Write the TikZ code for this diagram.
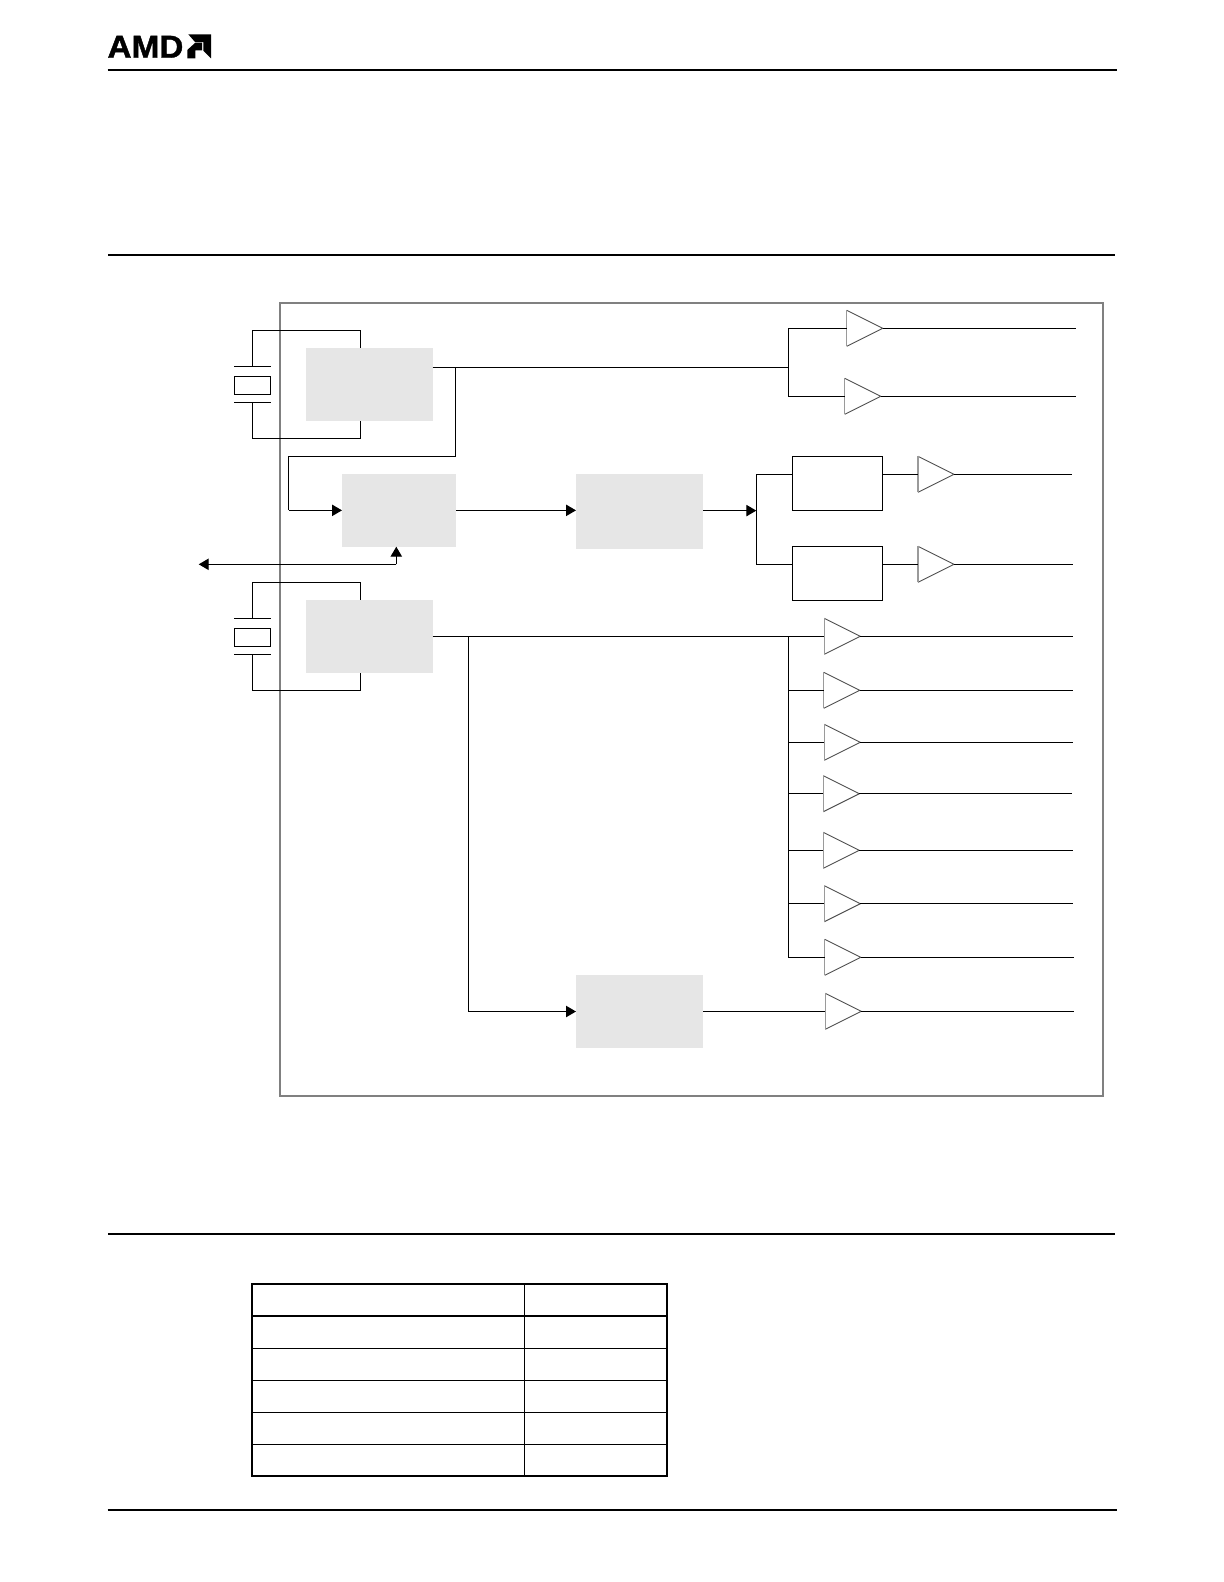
\documentclass[tikz,border=0pt]{standalone}
\usepackage{graphicx}
\usepackage{fontspec}
\setmainfont{Liberation Sans}
\newfontfamily\logofont[FakeBold=1.2]{Liberation Sans Bold}
\usetikzlibrary{arrows.meta}
\definecolor{frameg}{HTML}{808080}
\definecolor{boxg}{HTML}{E6E6E6}
\definecolor{bufdark}{HTML}{505050}
\definecolor{bufpale}{HTML}{9A9A9A}
\tikzset{
  wire/.style={line width=1pt,black,line cap=butt},
  arrowwire/.style={wire,-{Triangle[length=7.5pt,width=8.5pt]}},
  rulethick/.style={line width=1.5pt,black},
  outerframe/.style={line width=1.6pt,frameg},
  graybox/.style={fill=boxg,draw=none,inner sep=0pt,outer sep=0pt},
  linebox/.style={draw=black,line width=1pt,fill=white,inner sep=0pt,outer sep=0pt},
  bufbox/.style={inner sep=0pt,outer sep=0pt,minimum width=27pt,minimum height=27pt},
  bufedge/.style={line width=0.7pt,bufdark},
  bufleft/.style={line width=0.8pt,bufpale},
  tabouter/.style={line width=1.7pt,black},
  tabinner/.style={line width=0.95pt,black},
  logo/.style={fill=black,draw=none}
}
\newcommand{\bufamp}[3]{%
  \node[bufbox] (#1) at (#2+18,#3) {};
  \draw[bufedge] (#1.north west) -- (#1.east) -- (#1.south west);
  \draw[bufleft] (#1.north west) -- (#1.south west);
}
\begin{document}
\begin{tikzpicture}[x=0.75pt,y=-0.75pt]
\useasboundingbox (0,0) rectangle (1224,1582);
\fill[white] (0,0) rectangle (1224,1582);

% page rules
\coordinate (r1a) at (107.5,69.8); \coordinate (r1b) at (1117,69.8);
\coordinate (r2a) at (108,255.2);  \coordinate (r2b) at (1115,255.2);
\coordinate (r3a) at (108,1233.8); \coordinate (r3b) at (1115,1233.8);
\coordinate (r4a) at (107.5,1510.2); \coordinate (r4b) at (1117,1510.2);
\draw[rulethick] (r1a) -- (r1b);
\draw[rulethick] (r2a) -- (r2b);
\draw[rulethick] (r3a) -- (r3b);
\draw[rulethick] (r4a) -- (r4b);

% logo
\node[inner sep=0pt,outer sep=0pt,anchor=base west] (amd) at (107.5,57.7)
  {\fontsize{23.8pt}{24pt}\selectfont\logofont\scalebox{1.05}[1]{AMD}};
\fill[logo] (188.3,34.3) -- (211,34.3) -- (211,58.3) -- (203.3,50.7) -- (203.3,42) -- (195,42) -- cycle;
\fill[logo] (187.3,50) -- (195.3,42.7) -- (202,42.7) -- (202,50.3) -- (195.3,50.3) -- (195.3,58.3) -- (187.3,58.3) -- cycle;

% frame
\draw[outerframe] (280,303) rectangle (1102.7,1096);

% gray blocks
\node[graybox,minimum width=95pt,minimum height=54.5pt] (osca) at (369.35,384.35) {};
\node[graybox,minimum width=95pt,minimum height=54.5pt] (oscb) at (369.35,636.35) {};
\node[graybox,minimum width=85.5pt,minimum height=54.5pt] (mid) at (399,510.35) {};
\node[graybox,minimum width=95.25pt,minimum height=56pt] (pllb) at (639.5,511.35) {};
\node[graybox,minimum width=95.25pt,minimum height=54.75pt] (pllc) at (639.5,1011.5) {};

% white line boxes
\node[linebox,minimum width=67.8pt,minimum height=40.5pt] (diva) at (837.5,483.3) {};
\node[linebox,minimum width=67.8pt,minimum height=40.5pt] (divb) at (837.5,573.3) {};

% crystals
\node[linebox,minimum width=27pt,minimum height=13.5pt] (xa) at (252.3,385.3) {};
\node[linebox,minimum width=27pt,minimum height=13.5pt] (xb) at (252.3,637.3) {};
\coordinate (xapl) at (234,366.3); \coordinate (xapr) at (271,366.3);
\coordinate (xaql) at (234,402.3); \coordinate (xaqr) at (271,402.3);
\coordinate (xbpl) at (234,618.3); \coordinate (xbpr) at (271,618.3);
\coordinate (xbql) at (234,654.3); \coordinate (xbqr) at (271,654.3);
\draw[wire] (xapl) -- (xapr);
\draw[wire] (xaql) -- (xaqr);
\draw[wire] (xbpl) -- (xbpr);
\draw[wire] (xbql) -- (xbqr);
\coordinate (xat) at (252.3,366.3); \coordinate (xab) at (252.3,402.3);
\coordinate (xbt) at (252.3,618.3); \coordinate (xbb) at (252.3,654.3);
\coordinate (oat) at (360.3,330.3); \coordinate (oab) at (360.3,438.3);
\coordinate (obt) at (360.3,582.3); \coordinate (obb) at (360.3,690.3);
\draw[wire] (xat) |- (oat) -- (oat |- osca.north);
\draw[wire] (xab) |- (oab) -- (oab |- osca.south);
\draw[wire] (xbt) |- (obt) -- (obt |- oscb.north);
\draw[wire] (xbb) |- (obb) -- (obb |- oscb.south);

% buffers
\bufamp{ba}{846.7}{328.3}
\bufamp{bb}{844.7}{396.3}
\bufamp{bc}{918}{474.3}
\bufamp{bd}{918}{564.3}
\bufamp{be}{824.3}{636.3}
\bufamp{bf}{823.7}{690.3}
\bufamp{bg}{824.3}{742.3}
\bufamp{bh}{823.3}{793.7}
\bufamp{bi}{823.3}{850.3}
\bufamp{bj}{824.3}{903.7}
\bufamp{bk}{824.7}{957.3}
\bufamp{bl}{825.3}{1011.3}

% outputs
\coordinate (oa) at (1076,328.3);
\coordinate (ob) at (1076,396.3);
\coordinate (oc) at (1072,474.3);
\coordinate (od) at (1073,564.3);
\coordinate (oe) at (1073.3,636.3);
\coordinate (of) at (1073.3,690.3);
\coordinate (og) at (1073.3,742.3);
\coordinate (oh) at (1072,793.7);
\coordinate (oi) at (1073.3,850.3);
\coordinate (oj) at (1073.3,903.7);
\coordinate (ok) at (1074,957.3);
\coordinate (ol) at (1074,1011.3);
\foreach \b/\o in {ba/oa,bb/ob,bc/oc,bd/od,be/oe,bf/of,bg/og,bh/oh,bi/oi,bj/oj,bk/ok,bl/ol}
  \draw[wire] (\b.east) -- (\o);

% top bus
\coordinate (busa) at (788.3,367.3);
\coordinate (tapa) at (455.3,367.3);
\coordinate (tapb) at (455.3,456.3);
\coordinate (tapc) at (288.7,456.3);
\coordinate (tapd) at (288.7,510.35);
\draw[wire] (osca.east |- busa) -- (busa);
\draw[wire] (ba.west) -| (busa) |- (bb.west);
\draw[wire] (tapa) -- (tapb) -- (tapc) -- (tapd);
\draw[arrowwire] (tapd) -- (mid.west);

% middle chain
\coordinate (busb) at (756.3,510.6);
\draw[arrowwire] (mid.east) -- (mid.east -| pllb.west);
\draw[arrowwire] (pllb.east |- busb) -- (busb);
\draw[wire] (diva.west |- bc.west) -| (busb) |- (divb.west |- bd.west);
\draw[wire] (diva.east |- bc.west) -- (bc.west);
\draw[wire] (divb.east |- bd.west) -- (bd.west);

% bidirectional signal
\coordinate (sigt) at (396.3,564.3);
\coordinate (sigl) at (198.7,564.3);
\draw[arrowwire] (sigt) -- (sigl);
\draw[arrowwire] (sigt) -- (sigt |- mid.south);

% lower bus
\coordinate (busc) at (788.3,636.3);
\coordinate (busd) at (788.3,957.3);
\coordinate (tape) at (468.3,636.3);
\coordinate (tapf) at (468.3,1011.5);
\draw[wire] (oscb.east |- be.west) -- (be.west);
\draw[wire] (busc) -- (busd) -- (bk.west);
\draw[wire] (busc |- bf.west) -- (bf.west);
\draw[wire] (busc |- bg.west) -- (bg.west);
\draw[wire] (busc |- bh.west) -- (bh.west);
\draw[wire] (busc |- bi.west) -- (bi.west);
\draw[wire] (busc |- bj.west) -- (bj.west);
\draw[wire] (tape) -- (tapf);
\draw[arrowwire] (tapf) -- (pllc.west);
\draw[wire] (pllc.east |- bl.west) -- (bl.west);

% table
\draw[tabinner] (524.3,1284) -- (524.3,1476);
\draw[tabinner] (252,1348.3) -- (667,1348.3);
\draw[tabinner] (252,1380.3) -- (667,1380.3);
\draw[tabinner] (252,1412.3) -- (667,1412.3);
\draw[tabinner] (252,1444.3) -- (667,1444.3);
\draw[tabouter] (252,1315.7) -- (667,1315.7);
\draw[tabouter] (252,1284) rectangle (667,1476);
\end{tikzpicture}
\end{document}
